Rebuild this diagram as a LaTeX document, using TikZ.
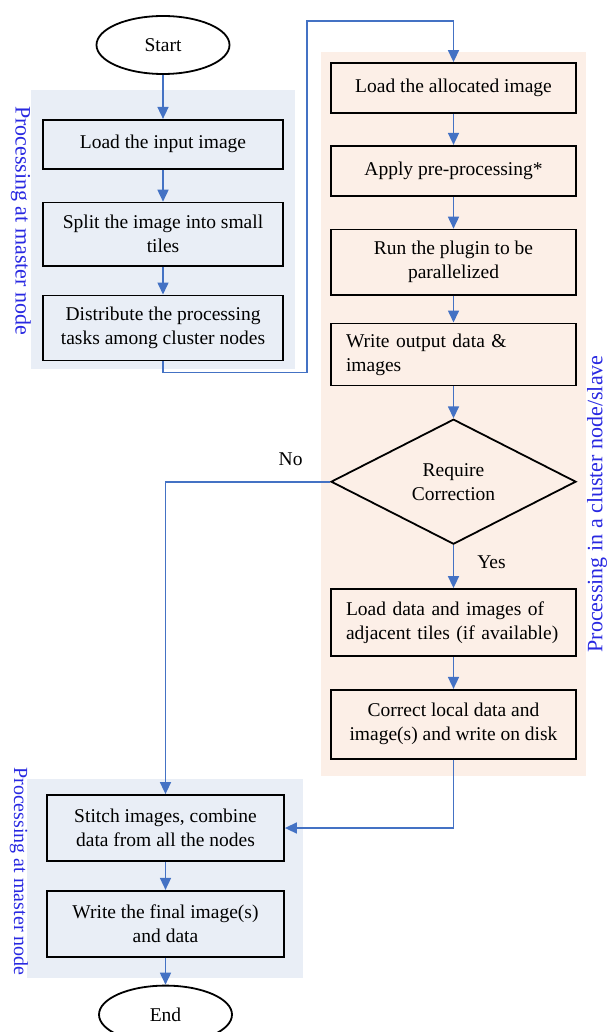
\documentclass[tikz,border=0pt]{standalone}
\usepackage{fontspec}
\setmainfont{Liberation Serif}
\usetikzlibrary{shapes.geometric,arrows.meta,positioning,fit,backgrounds,calc}
\definecolor{cArrow}{RGB}{68,114,196}
\definecolor{cMasterFill}{RGB}{233,238,246}
\definecolor{cSlaveFill}{RGB}{252,239,231}
\definecolor{cLabel}{RGB}{40,40,225}
\newcommand{\boxfont}{\fontsize{19.5}{24}\selectfont}
\newcommand{\sidefont}{\fontsize{22}{26}\selectfont}
\tikzset{
    box/.style={rectangle, draw=black, line width=1.8pt, inner sep=4pt,
        minimum width=240pt, minimum height=50pt, font=\boxfont, align=center},
    slbox/.style={box, minimum width=245pt},
    lbox/.style={box, align=left, inner xsep=15pt, text width=215pt},
    term/.style={ellipse, draw=black, line width=1.8pt, minimum width=133pt,
        minimum height=58pt, font=\boxfont},
    decide/.style={diamond, draw=black, line width=1.8pt, aspect=1.96,
        inner sep=0pt, minimum width=245pt, minimum height=125pt,
        font=\boxfont, align=center},
    arr/.style={-{Triangle[length=12pt,width=11pt]}, line width=1.6pt, draw=cArrow},
    lbl/.style={font=\boxfont},
    side/.style={font=\sidefont, text=cLabel},
    region/.style={draw=none, inner sep=0pt, fill=#1},
}

\begin{document}
\begin{tikzpicture}[x=1pt, y=1pt, node distance=30pt]
\useasboundingbox (0,0) rectangle (608,-1032);

% ================================================================
%  MASTER NODE -- split the input
% ================================================================
\node[term] (start) at (163,-45) {Start};
\node[box, below=44pt of start, minimum height=49pt] (loadin) {Load the input image};
\node[box, below=32pt of loadin, minimum height=63pt] (split)
    {Split the image into small\\tiles};
\node[box, below=28pt of split, minimum height=65pt] (distr)
    {Distribute the processing\\tasks among cluster nodes};

\draw[arr] (start.south) -- (loadin.north);
\draw[arr] (loadin) -- (split);
\draw[arr] (split) -- (distr);

% ================================================================
%  CLUSTER NODE / SLAVE
% ================================================================
\node[slbox] (loadal) at (453.5,-88) {Load the allocated image};
\node[slbox, below=31pt of loadal] (prep) {Apply pre-processing*};
\node[slbox, below=32pt of prep, minimum height=65pt] (plugin)
    {Run the plugin to be\\parallelized};
\node[lbox, below=27pt of plugin, minimum height=62pt] (wout)
    {Write output data \&\\images};
\node[decide, below=32pt of wout] (corr) {Require\\Correction};
\node[lbox, below=43pt of corr, minimum height=67pt] (adj)
    {Load data and images of\\adjacent tiles (if available)};
\node[slbox, below=32pt of adj, minimum height=69pt] (fix)
    {Correct local data and\\image(s) and write on disk};

% master -> slave (goes round the top)
\coordinate (hop) at ($(loadal.north)+(-146.5,41)$);
\draw[arr] (distr.south) -- ++(0,-11) -| (hop) -| (loadal.north);

\draw[arr] (loadal) -- (prep);
\draw[arr] (prep) -- (plugin);
\draw[arr] (plugin) -- (wout);
\draw[arr] (wout) -- (corr);
\draw[arr] (corr.south) -- node[lbl, pos=0.4, xshift=38pt] {Yes} (adj.north);
\draw[arr] (adj) -- (fix);

% ================================================================
%  MASTER NODE -- merge the results
% ================================================================
\node[box, minimum width=237pt, minimum height=66pt] (stitch) at (165.5,-828)
    {Stitch images, combine\\data from all the nodes};
\node[box, below=28pt of stitch, minimum width=237pt, minimum height=66pt] (final)
    {Write the final image(s)\\and data};
\node[term, below=27pt of final] (end) {End};

\draw[arr] (corr.west) -| node[lbl, pos=0.12, yshift=22pt] {No} (stitch.north);
\draw[arr] (fix.south) |- (stitch.east);
\draw[arr] (stitch) -- (final);
\draw[arr] (final.south) -- (end.north);

% ================================================================
%  BACKGROUND REGIONS
% ================================================================
\begin{scope}[on background layer]
    \node[region=cMasterFill,
          fit={($(loadin.north west)+(-11,29)$) ($(distr.south east)+(11,-8)$)}] (mtop) {};
    \node[region=cSlaveFill,
          fit={($(loadal.north west)+(-9,10)$) ($(fix.south east)+(9,-16)$)}] (slave) {};
    \node[region=cMasterFill,
          fit={($(stitch.north west)+(-19,15)$) ($(final.south east)+(18,-20)$)}] (mbot) {};
\end{scope}

% side captions
\node[side, rotate=-90] (captop) at ($(mtop.west)+(-10,9)$) {Processing at master node};
\node[side, rotate=90] (capslave) at ($(slave.east)+(11,-90)$) {Processing in a cluster node/slave};
\node[side, rotate=-90, font=\fontsize{20}{24}\selectfont] (capbot) at ($(mbot.west)+(-8,7)$)
    {Processing at master node};

\end{tikzpicture}
\end{document}
